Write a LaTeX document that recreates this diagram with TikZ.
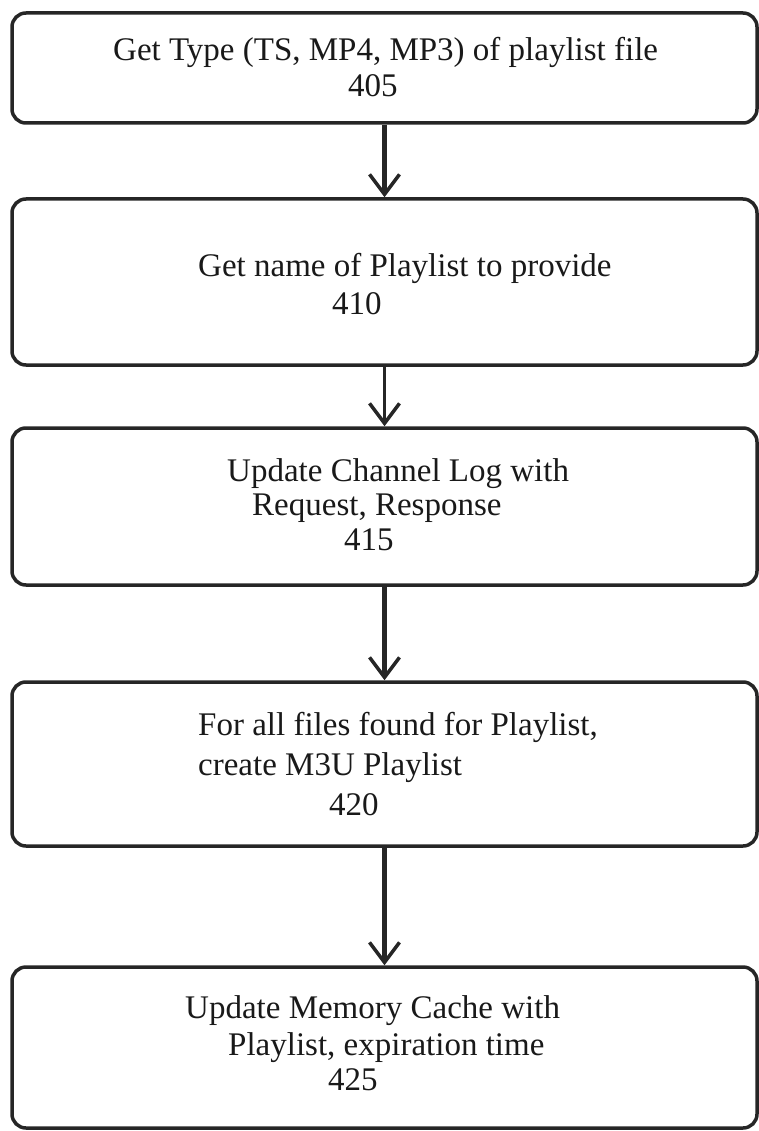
\documentclass[tikz,border=0pt]{standalone}
\usepackage{fontspec}
\setmainfont{Liberation Serif}
\usetikzlibrary{arrows.meta,positioning}

\tikzset{
  stepbox/.style={draw=black!85, line width=3.5pt, rounded corners=14pt, minimum width=745pt, inner sep=0pt},
  txt/.style={font=\fontsize{33}{40}\selectfont, text=black!90, inner sep=0pt, anchor=base west},
  flow/.style={line width=5pt, draw=black!85, -{Straight Barb[length=20pt,width=30pt,line width=3.5pt]}}
}

\begin{document}
\begin{tikzpicture}[x=1pt,y=-1pt]

    \useasboundingbox (0,0) rectangle (759,1131);

    % Defining the boxes
    \node[stepbox, minimum height=110pt] (b405) at (384.5,68) {};
    \node[stepbox, minimum height=166pt] (b410) at (384.5,282) {};
    \node[stepbox, minimum height=157pt] (b415) at (384.5,506.5) {};
    \node[stepbox, minimum height=164pt] (b420) at (384.5,764) {};
    \node[stepbox, minimum height=161pt] (b425) at (384.5,1047.5) {};

    % Texts of the boxes
    \node[txt] (t405a) at (113,61) {Get Type (TS, MP4, MP3) of playlist file};
    \node[txt] (t405b) at (348,97) {405};

    \node[txt] (t410a) at (198,277) {Get name of Playlist to provide};
    \node[txt] (t410b) at (332,314) {410};

    \node[txt] (t415a) at (227,481) {Update Channel Log with};
    \node[txt] (t415b) at (252,515) {Request, Response};
    \node[txt] (t415c) at (344,550) {415};

    \node[txt] (t420a) at (198,735) {For all files found for Playlist,};
    \node[txt] (t420b) at (198,775) {create M3U Playlist};
    \node[txt] (t420c) at (329,815) {420};

    \node[txt] (t425a) at (185,1018) {Update Memory Cache with};
    \node[txt] (t425b) at (228,1055) {Playlist, expiration time};
    \node[txt] (t425c) at (328,1090) {425};

    % Arrows between the boxes
    \draw[flow] (b405.south) -- (b410.north);
    \draw[flow, line width=3.5pt] (b410.south) -- (b415.north);
    \draw[flow] (b415.south) -- (b420.north);
    \draw[flow] (b420.south) -- (b425.north);

\end{tikzpicture}
\end{document}
